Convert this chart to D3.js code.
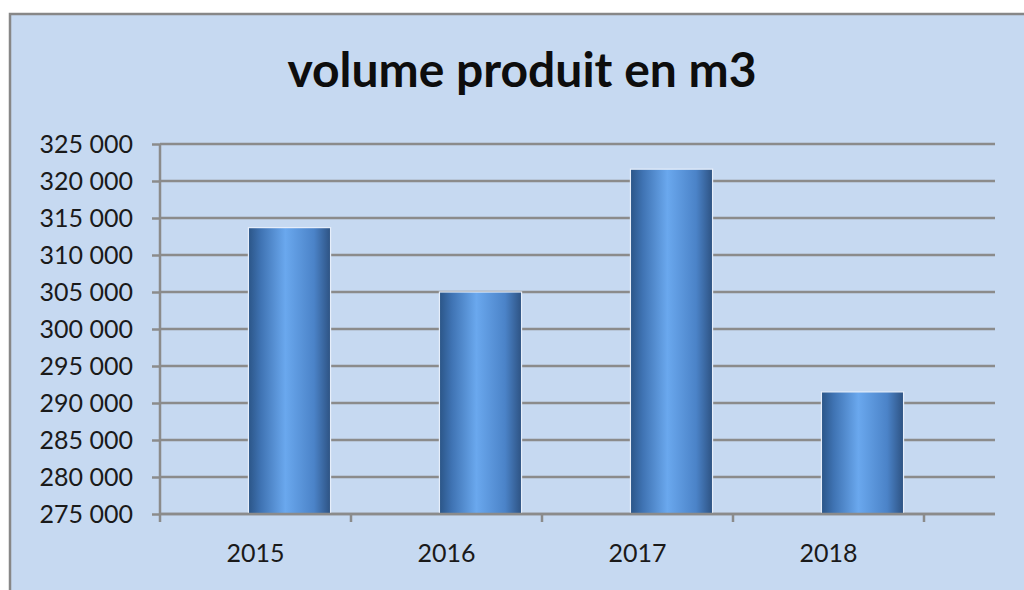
<!DOCTYPE html>
<html>
<head>
<meta charset="utf-8">
<script src="https://cdn.jsdelivr.net/npm/d3@7"></script>
<style>
  html, body { margin: 0; padding: 0; background: #ffffff; }
  svg { display: block; }
</style>
</head>
<body>
<div id="chart"></div>
<script>
//Data
const years = ["2015", "2016", "2017", "2018"];
const volumes = [313700, 305000, 321600, 291500];
const yTicks = [275000, 280000, 285000, 290000, 295000, 300000, 305000, 310000, 315000, 320000, 325000];
const chartTitle = "volume produit en m3";

//dimensions
const width = 1024;
const height = 590;
const plotLeft = 160, plotRight = 995, plotTop = 144, plotBottom = 514;
const depth = 34; //Excel 3D offset between floor and back wall

const svg = d3.select("#chart").append("svg").attr("width", width).attr("height", height);

//chart background with grey border
svg.append("rect").attr("x", 10).attr("y", 14).attr("width", width + 10).attr("height", height)
  .attr("fill", "#c6d9f1").attr("stroke", "#878787").attr("stroke-width", 2.5);

//french number format "325 000"
const fr = d3.formatLocale({ decimal: ",", thousands: "\u00a0", grouping: [3], currency: ["", " €"] });
const fmt = fr.format(",d");

//scales
const yscale = d3.scaleLinear().domain([275000, 325000]).range([plotBottom, plotTop]);
const xAxisScale = d3.scaleBand().domain(years).range([plotLeft, plotLeft + 4 * 191]);
const xscale = d3.scaleBand().domain(years).range([plotLeft + depth, plotLeft + depth + 4 * 191])
  .paddingInner(0.57).paddingOuter(0.285);

//gridlines
svg.append("g").selectAll("line").data(yTicks).enter().append("line")
  .attr("x1", plotLeft).attr("x2", plotRight)
  .attr("y1", d => yscale(d)).attr("y2", d => yscale(d))
  .attr("stroke", "#8b8b8b").attr("stroke-width", 2.5);

//gradient for the bars
const grad = svg.append("defs").append("linearGradient").attr("id", "barGrad")
  .attr("x1", "0%").attr("x2", "100%").attr("y1", "0%").attr("y2", "0%");
grad.selectAll("stop")
  .data([[0, "#2b5587"], [0.15, "#3f73b3"], [0.45, "#6aa8ee"], [0.8, "#4b83c8"], [1, "#2d5282"]])
  .enter().append("stop")
  .attr("offset", d => d[0] * 100 + "%")
  .attr("stop-color", d => d[1]);

//bars
svg.append("g").selectAll("rect").data(volumes).enter().append("rect")
  .attr("x", (d, i) => xscale(years[i]))
  .attr("y", d => yscale(d))
  .attr("width", xscale.bandwidth())
  .attr("height", d => plotBottom - yscale(d))
  .attr("fill", "url(#barGrad)")
  .attr("stroke", "#e6eefa").attr("stroke-width", 1.2);

//y axis
const yAxis = d3.axisLeft(yscale).tickValues(yTicks).tickFormat(fmt).tickSize(8).tickPadding(19);
const gy = svg.append("g").attr("transform", `translate(${plotLeft}, 0)`).call(yAxis);
gy.select(".domain").remove();
gy.selectAll(".tick line").attr("stroke", "#8b8b8b").attr("stroke-width", 2.5);
gy.selectAll("text").attr("fill", "#1a1a1a").style("font-family", "Lato, 'Open Sans', sans-serif").style("font-size", "25px");
gy.append("line").attr("x1", 0).attr("x2", 0).attr("y1", plotTop).attr("y2", plotBottom + 8)
  .attr("stroke", "#8b8b8b").attr("stroke-width", 2.5);

//x axis
svg.append("line").attr("x1", plotLeft).attr("x2", plotRight).attr("y1", plotBottom).attr("y2", plotBottom)
  .attr("stroke", "#8b8b8b").attr("stroke-width", 2.5);
const xAxis = d3.axisBottom(xAxisScale).tickSize(0).tickPadding(30);
const gx = svg.append("g").attr("transform", `translate(0, ${plotBottom})`).call(xAxis);
gx.select(".domain").remove();
gx.selectAll("text").attr("fill", "#1a1a1a").style("font-family", "Lato, 'Open Sans', sans-serif").style("font-size", "25px");
//category separators
svg.append("g").selectAll("line").data(years).enter().append("line")
  .attr("x1", d => xAxisScale(d) + xAxisScale.bandwidth())
  .attr("x2", d => xAxisScale(d) + xAxisScale.bandwidth())
  .attr("y1", plotBottom).attr("y2", plotBottom + 8)
  .attr("stroke", "#8b8b8b").attr("stroke-width", 2.5);

//title
svg.append("text").attr("x", 522).attr("y", 87).attr("text-anchor", "middle")
  .style("font-family", "Lato, 'Open Sans', sans-serif").style("font-weight", "bold").style("font-size", "48px")
  .attr("fill", "#0d0d0d").text(chartTitle);
</script>
</body>
</html>
